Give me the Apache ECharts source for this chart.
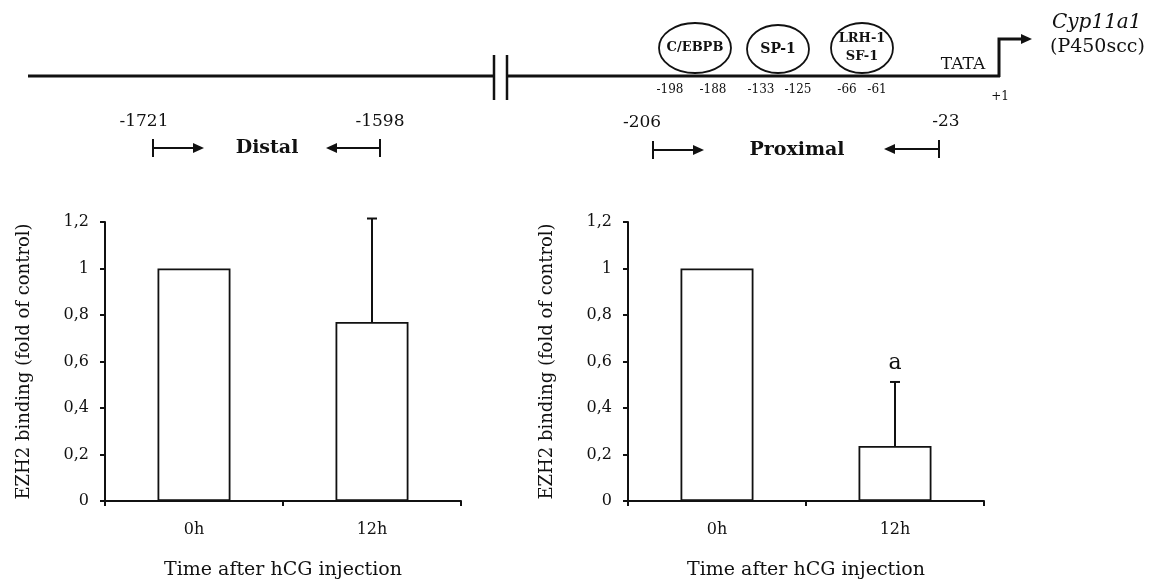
<!DOCTYPE html>
<html>
<head>
<meta charset="utf-8">
<script src="https://cdn.jsdelivr.net/npm/echarts@6/dist/echarts.min.js"></script>
<style>
  html, body { margin: 0; padding: 0; background: #fff; }
  #chart { width: 1157px; height: 586px; }
</style>
</head>
<body>
<div id="chart"></div>
<script>
// data
const categories = ['0h', '12h'];
const distalValues = [1.0, 0.77];
const distalErrors = [0, 0.445];
const distalMarks = ['', ''];
const proximalValues = [1.0, 0.237];
const proximalErrors = [0, 0.275];
const proximalMarks = ['', 'a'];
const yMax = 1.2;
const yStep = 0.2;

const serif = 'DejaVu Serif';
const ink = '#111';

const chart = echarts.init(document.getElementById('chart'));

// error bars (upper only) with optional significance letter
function errorSeries(gridIdx, values, errors, marks) {
  return {
    type: 'custom',
    xAxisIndex: gridIdx,
    yAxisIndex: gridIdx,
    data: values.map((v, i) => [i, v, v + errors[i], i]),
    encode: { x: 0, y: [1, 2] },
    z: 5,
    renderItem: (params, api) => {
      const i = api.value(0);
      const lo = api.coord([i, api.value(1)]);
      const hi = api.coord([i, api.value(2)]);
      const children = [];
      if (api.value(2) > api.value(1)) {
        children.push({ type: 'line', shape: { x1: lo[0], y1: lo[1], x2: hi[0], y2: hi[1] }, style: { stroke: ink, lineWidth: 2 } });
        children.push({ type: 'line', shape: { x1: hi[0] - 5, y1: hi[1], x2: hi[0] + 5, y2: hi[1] }, style: { stroke: ink, lineWidth: 2 } });
      }
      const m = marks[api.value(3)];
      if (m) {
        children.push({ type: 'text', x: hi[0], y: hi[1] - 8, style: { text: m, fontFamily: serif, fontSize: 22, fill: ink, align: 'center', verticalAlign: 'bottom' } });
      }
      return { type: 'group', children };
    }
  };
}

function barSeries(gridIdx, values) {
  return {
    type: 'bar',
    xAxisIndex: gridIdx,
    yAxisIndex: gridIdx,
    data: values,
    barWidth: '41%',
    itemStyle: { color: '#fff', borderColor: ink, borderWidth: 1.8 }
  };
}

const axisLine = { show: true, lineStyle: { color: ink, width: 2 } };

function xAxis(gridIdx) {
  return {
    type: 'category',
    gridIndex: gridIdx,
    data: categories,
    axisLine,
    axisTick: { show: true, length: 5, lineStyle: { color: ink, width: 2 } },
    axisLabel: { fontFamily: serif, fontSize: 16, color: ink, margin: 21 },
    name: 'Time after hCG injection',
    nameLocation: 'middle',
    nameGap: 60,
    nameTextStyle: { fontFamily: serif, fontSize: 19, color: ink }
  };
}

function yAxis(gridIdx) {
  return {
    type: 'value',
    gridIndex: gridIdx,
    min: 0,
    max: yMax,
    interval: yStep,
    axisLine,
    axisTick: { show: true, length: 5, lineStyle: { color: ink, width: 2 } },
    splitLine: { show: false },
    axisLabel: {
      fontFamily: serif, fontSize: 16, color: ink, margin: 16,
      formatter: v => String(+v.toFixed(1)).replace('.', ',')
    },
    name: 'EZH2 binding (fold of control)',
    nameLocation: 'middle',
    nameGap: 72,
    nameTextStyle: { fontFamily: serif, fontSize: 18, color: ink }
  };
}

// promoter schematic drawn on top
function txt(x, y, text, size, extra) {
  return { type: 'text', x, y, style: Object.assign({ text, fontFamily: serif, fontSize: size, fill: ink, align: 'center', verticalAlign: 'middle' }, extra || {}) };
}
function hline(x1, x2, y, w) {
  return { type: 'line', shape: { x1, y1: y, x2, y2: y }, style: { stroke: ink, lineWidth: w || 2 } };
}
function vline(x, y1, y2, w) {
  return { type: 'line', shape: { x1: x, y1, x2: x, y2 }, style: { stroke: ink, lineWidth: w || 2 } };
}
function head(x, y, dir) {
  return { type: 'polygon', shape: { points: [[x, y], [x - dir * 11, y - 5], [x - dir * 11, y + 5]] }, style: { fill: ink } };
}
function ellipse(cx, cy, rx, ry) {
  return { type: 'ellipse', shape: { cx, cy, rx, ry }, style: { fill: '#fff', stroke: ink, lineWidth: 1.8 } };
}

const graphic = [
  hline(28, 494, 76, 3),
  vline(494, 55, 100, 2.5),
  vline(507, 55, 100, 2.5),
  hline(507, 1000, 76, 3),
  { type: 'polyline', shape: { points: [[999, 77], [999, 39], [1021, 39]] }, style: { stroke: ink, lineWidth: 3, fill: null } },
  head(1032, 39, 1),
  ellipse(695, 48, 36, 25),
  ellipse(778, 49, 31, 24),
  ellipse(862, 48, 31, 25),
  txt(695, 48, 'C/EBPB', 13, { fontWeight: 'bold' }),
  txt(778, 49, 'SP-1', 14, { fontWeight: 'bold' }),
  txt(862, 39, 'LRH-1', 13, { fontWeight: 'bold' }),
  txt(862, 57, 'SF-1', 13, { fontWeight: 'bold' }),
  txt(963, 65, 'TATA', 17),
  txt(1052, 23, 'Cyp11a1', 20, { align: 'left', fontStyle: 'italic' }),
  txt(1050, 47, '(P450scc)', 19, { align: 'left' }),
  txt(670, 90, '-198', 12),
  txt(713, 90, '-188', 12),
  txt(761, 90, '-133', 12),
  txt(798, 90, '-125', 12),
  txt(847, 90, '-66', 12),
  txt(877, 90, '-61', 12),
  txt(1000, 97, '+1', 12),
  // distal primers
  txt(144, 122, '-1721', 17),
  txt(380, 122, '-1598', 17),
  vline(153, 139, 157, 2),
  hline(153, 194, 148, 2),
  head(204, 148, 1),
  txt(267, 148, 'Distal', 19, { fontWeight: 'bold' }),
  hline(336, 380, 148, 2),
  head(326, 148, -1),
  vline(380, 139, 157, 2),
  // proximal primers
  txt(642, 123, '-206', 17),
  txt(946, 122, '-23', 17),
  vline(653, 141, 159, 2),
  hline(653, 694, 150, 2),
  head(704, 150, 1),
  txt(797, 150, 'Proximal', 19, { fontWeight: 'bold' }),
  hline(894, 939, 149, 2),
  head(884, 149, -1),
  vline(939, 140, 158, 2)
];

chart.setOption({
  animation: false,
  backgroundColor: '#fff',
  grid: [
    { left: 105, right: 696, top: 222, bottom: 85 },
    { left: 628, right: 173, top: 222, bottom: 85 }
  ],
  xAxis: [xAxis(0), xAxis(1)],
  yAxis: [yAxis(0), yAxis(1)],
  series: [
    barSeries(0, distalValues),
    errorSeries(0, distalValues, distalErrors, distalMarks),
    barSeries(1, proximalValues),
    errorSeries(1, proximalValues, proximalErrors, proximalMarks)
  ],
  graphic
});
</script>
</body>
</html>
